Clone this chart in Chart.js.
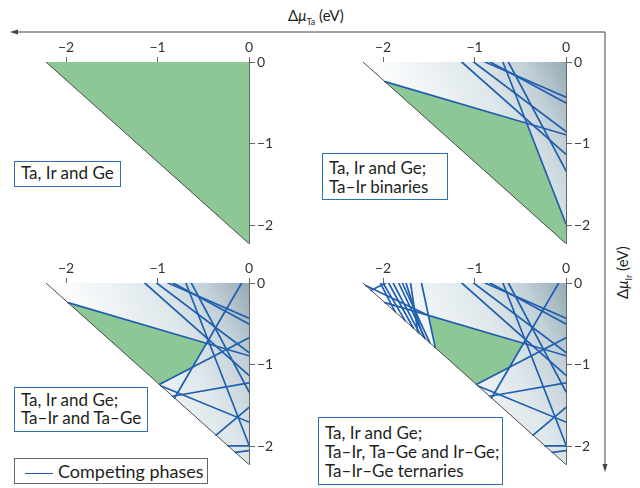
<!DOCTYPE html>
<html>
<head>
<meta charset="utf-8">
<script src="https://cdn.jsdelivr.net/npm/chart.js@4.4.1/dist/chart.umd.min.js"></script>
<style>
    body { margin: 0; background: #fff; font-family: Lato, sans-serif; color: #231f20; }
    #page { position: relative; width: 640px; height: 488px; overflow: hidden; }
    canvas.panel { position: absolute; }
    .box { position: absolute; background: #fff; border: 1.5px solid #2f6fb6; font-size: 17px;
           line-height: 19px; padding: 3px 6px; box-sizing: border-box; white-space: nowrap; }
    .title { position: absolute; font-size: 15px; white-space: nowrap; }
    .title sub { font-size: 9px; }
    #legend { position: absolute; left: 14px; top: 458px; width: 194px; height: 26px; border: 1px solid #666;
              background: #fff; box-sizing: border-box; font-size: 18px; line-height: 24px; padding-left: 10px; }
    #legend span { display: inline-block; width: 28px; height: 0; border-top: 1.6px solid #1f5fae;
                   vertical-align: middle; margin-right: 5px; }
</style>
</head>
<body>
<div id="page">
    <svg width="640" height="488" style="position:absolute;left:0;top:0">
        <polyline points="16,32 605,32 605,466" fill="none" stroke="#444" stroke-width="1"/>
        <polygon points="10,32 18,29.5 18,34.5" fill="#444"/>
        <polygon points="605,472 602.5,464 607.5,464" fill="#444"/>
    </svg>
    <canvas class="panel" id="panel-1" width="278" height="222" style="left:6px;top:32px"></canvas>
    <canvas class="panel" id="panel-2" width="278" height="222" style="left:323px;top:32px"></canvas>
    <canvas class="panel" id="panel-3" width="278" height="222" style="left:6px;top:253px"></canvas>
    <canvas class="panel" id="panel-4" width="278" height="222" style="left:323px;top:253px"></canvas>

    <div class="title" style="left:288px;top:6px">Δ<i>μ</i><sub>Ta</sub> (eV)</div>
    <div class="title" style="left:592px;top:258px;transform:rotate(-90deg);transform-origin:31px 10px">Δ<i>μ</i><sub>Ir</sub> (eV)</div>

    <div class="box" style="left:14px;top:161px;width:107px;height:26px;line-height:18px;padding-top:2px">Ta, Ir and Ge</div>
    <div class="box" style="left:322px;top:153px;width:126px;height:47px;padding-top:4px">Ta, Ir and Ge;<br>Ta–Ir binaries</div>
    <div class="box" style="left:14px;top:387px;width:134px;height:45px;line-height:18px;padding-top:3px">Ta, Ir and Ge;<br>Ta–Ir and Ta–Ge</div>
    <div class="box" style="left:318px;top:417px;width:185px;height:68px;padding-top:5px">Ta, Ir and Ge;<br>Ta–Ir, Ta–Ge and Ir–Ge;<br>Ta–Ir–Ge ternaries</div>
    <div id="legend"><span></span>Competing phases</div>
</div>

<script>
var xTicks = [-2, -1, 0];
var yTicks = [0, -1, -2];

// Δμ_Ta, Δμ_Ir corners of the allowed triangle
var triangle = [[0, 0], [-2.22, 0], [0, -2.22]];

// stable (green) regions
var stableTaIr = [[-1.98, -0.24], [-0.43, -0.75], [0, -1.98], [0, -2.22]];
var stableTaGe = [[-1.98, -0.24], [-0.462, -0.739], [-0.62, -1.034], [-0.98, -1.24]];
var stableAll = [[-1.505, -0.396], [-0.462, -0.739], [-0.62, -1.034], [-0.98, -1.24], [-1.43, -0.79]];

// competing phase lines: x1, y1, x2, y2
var taIrPhases = [
    [-1.14, 0, 0, -1.13],
    [-1.01, 0, 0, -0.85],
    [-0.885, 0, 0, -0.43],
    [-0.83, 0, 0, -0.50],
    [-0.63, 0, 0, -1.33],
    [-0.69, 0, 0, -1.98],
    [-1.98, -0.24, 0, -0.89]
];
var taGePhases = [
    [-0.08, 0, -0.814, -1.406],
    [-0.98, -1.24, 0, -0.67],
    [-0.836, -1.384, 0, -1.22],
    [-0.96, -1.26, 0, -1.70],
    [-0.36, -1.86, 0, -1.52],
    [-0.23, -1.99, 0, -1.99],
    [-0.15, -2.07, 0, -2.05]
];
var irGeTernaryPhases = [
    [-1.58, 0, -1.43, -0.79],
    [-2.03, 0, -1.87, -0.35],
    [-2.00, 0, -1.76, -0.46],
    [-1.94, 0, -1.67, -0.55],
    [-1.89, 0, -1.60, -0.62],
    [-1.83, 0, -1.54, -0.68],
    [-1.79, 0, -1.49, -0.73],
    [-1.75, 0, -1.56, -0.66],
    [-1.70, 0, -1.62, -0.60],
    [-1.97, 0, -2.13, -0.09],
    [-2.19, -0.03, -1.505, -0.396]
];

var BLUE = '#1f5fae';
var GREEN = '#8ec796';

Chart.defaults.font.family = 'Lato';

createPanel('panel-1', triangle, [], false);
createPanel('panel-2', stableTaIr, taIrPhases, true);
createPanel('panel-3', stableTaGe, taIrPhases.concat(taGePhases), true);
createPanel('panel-4', stableAll, taIrPhases.concat(taGePhases, irGeTernaryPhases), true);

function toPoints(list) {
    return list.map(function (p) { return { x: p[0], y: p[1] }; });
}

function minus(v) {
    return v < 0 ? '\u2212' + Math.abs(v) : String(v);
}

function shade(context) {
    var chart = context.chart;
    var area = chart.chartArea;
    if (!area) return '#dde6ea';
    var h = area.bottom - area.top;
    var g = chart.ctx.createLinearGradient(area.right, area.top, area.left, area.top + 0.55 * h);
    g.addColorStop(0, '#94a9b5');
    g.addColorStop(0.17, '#c2d0d7');
    g.addColorStop(0.37, '#dee7eb');
    g.addColorStop(0.8, '#ffffff');
    g.addColorStop(1, '#ffffff');
    return g;
}

function createPanel(id, stable, phases, shaded) {
    var ctx = document.getElementById(id).getContext('2d');
    var datasets = [];

    datasets.push({
        data: toPoints([triangle[1], triangle[2]]),
        borderColor: '#4a4a4a',
        borderWidth: 1
    });

    phases.forEach(function (l) {
        datasets.push({
            data: [{ x: l[0], y: l[1] }, { x: l[2], y: l[3] }],
            borderColor: BLUE,
            borderWidth: 1.7
        });
    });

    if (shaded) {
        datasets.push({
            data: toPoints(stable),
            borderColor: 'rgba(0,0,0,0)',
            backgroundColor: GREEN,
            fill: 'shape'
        });
    }

    datasets.push({
        data: toPoints(triangle),
        borderColor: 'rgba(0,0,0,0)',
        backgroundColor: shaded ? shade : GREEN,
        fill: 'shape'
    });

    datasets.forEach(function (d) {
        d.showLine = true;
        d.pointRadius = 0;
        d.borderCapStyle = 'round';
    });

    var options = {
        responsive: false,
        animation: false,
        layout: { padding: { left: 40, top: 4, right: 5, bottom: 6 } },
        plugins: { legend: { display: false }, tooltip: { enabled: false } },
        scales: {
            x: {
                type: 'linear',
                position: 'top',
                min: triangle[1][0],
                max: 0,
                z: 1,
                afterBuildTicks: function (s) { s.ticks = xTicks.map(function (v) { return { value: v }; }); },
                afterFit: function (s) { s.height = 26; },
                ticks: { callback: minus, color: '#333', font: { size: 14 }, padding: 1, maxRotation: 0, autoSkip: false },
                grid: { drawOnChartArea: false, tickLength: 5, color: '#666' },
                border: { color: '#666', width: 1 }
            },
            y: {
                type: 'linear',
                position: 'right',
                min: triangle[2][1],
                max: 0,
                z: 1,
                afterBuildTicks: function (s) { s.ticks = yTicks.map(function (v) { return { value: v }; }); },
                afterFit: function (s) { s.width = 30; },
                ticks: { callback: minus, color: '#333', font: { size: 14 }, padding: 2, autoSkip: false },
                grid: { drawOnChartArea: false, tickLength: 6, color: '#666' },
                border: { color: '#666', width: 1 }
            }
        }
    };

    var chart = new Chart(ctx, {
        type: 'scatter',
        data: { datasets: datasets },
        options: options
    });
}
</script>
</body>
</html>
